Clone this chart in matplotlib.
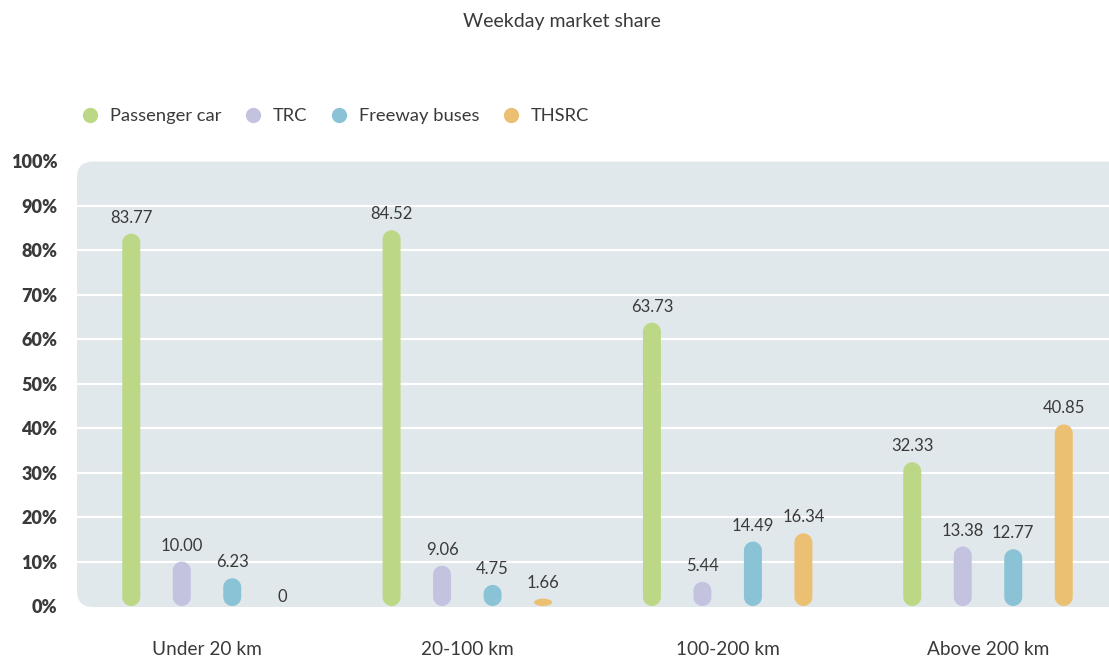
import numpy as np
import matplotlib
matplotlib.use("Agg")
import matplotlib.pyplot as plt
from matplotlib.patches import FancyBboxPatch, Polygon
from matplotlib.lines import Line2D

categories = ["Under 20 km", "20-100 km", "100-200 km", "Above 200 km"]
series_names = ["Passenger car", "TRC", "Freeway buses", "THSRC"]
passenger_car = [83.77, 84.52, 63.73, 32.33]
trc = [10.00, 9.06, 5.44, 13.38]
freeway_buses = [6.23, 4.75, 14.49, 12.77]
thsrc = [0, 1.66, 16.34, 40.85]
value_labels = [
    ["83.77", "84.52", "63.73", "32.33"],
    ["10.00", "9.06", "5.44", "13.38"],
    ["6.23", "4.75", "14.49", "12.77"],
    ["0", "1.66", "16.34", "40.85"],
]
yticks = [0, 10, 20, 30, 40, 50, 60, 70, 80, 90, 100]
ytick_labels = ["0%", "10%", "20%", "30%", "40%", "50%", "60%", "70%", "80%", "90%", "100%"]
colors = ["#bcd886", "#c3c3e0", "#8bc3d6", "#ecc072"]

plt.rcParams["font.family"] = ["Lato", "DejaVu Sans"]
TEXT = "#3a3a3a"

W, H = 1109, 659
fig = plt.figure(figsize=(W / 100, H / 100), dpi=100)

ax_left, ax_right = 77, 1109
ax_top, ax_bot = 161.5, 606
ax = fig.add_axes([ax_left / W, 1 - ax_bot / H, (ax_right - ax_left) / W, (ax_bot - ax_top) / H])
ax.set_facecolor("none")
ax.set_zorder(2)

# rounded background panel
r_bg = 16
bg = FancyBboxPatch((ax_left / W, 1 - 607 / H), (W + 40 - ax_left) / W, (607 - ax_top) / H,
                    boxstyle=f"round,pad=0,rounding_size={r_bg / W}",
                    mutation_aspect=W / H, transform=fig.transFigure,
                    facecolor="#e1e8ec", edgecolor="none", zorder=-1)
fig.patches.append(bg)

group_spacing_px = 260.3
xmin = -(207 - ax_left) / group_spacing_px
xmax = 3 + (ax_right - 988) / group_spacing_px
ax.set_xlim(xmin, xmax)
ax.set_ylim(0, 100)

px_per_x = (ax_right - ax_left) / (xmax - xmin)
px_per_y = (ax_bot - ax_top) / 100.0
bar_px = 18
hw = bar_px / 2 / px_per_x
ry_full = bar_px / 2 / px_per_y
offset = 50.5 / px_per_x

for gy in yticks[1:-1]:
    ax.axhline(gy, color="white", lw=1.5, zorder=1)

all_series = [passenger_car, trc, freeway_buses, thsrc]
x = np.arange(len(categories))
t_top = np.linspace(0, np.pi, 30)
t_bot = np.linspace(np.pi, 2 * np.pi, 30)
for si, vals in enumerate(all_series):
    for gi, v in enumerate(vals):
        c = x[gi] + (si - 1.5) * offset
        if v > 0:
            ry = min(ry_full, v / 2)
            top = np.column_stack([c + hw * np.cos(t_top), (v - ry) + ry * np.sin(t_top)])
            bot = np.column_stack([c + hw * np.cos(t_bot), ry + ry * np.sin(t_bot)])
            poly = Polygon(np.vstack([top, bot]), closed=True, facecolor=colors[si],
                           edgecolor="none", zorder=2)
            ax.add_patch(poly)
            off = 16
        else:
            off = 9
        ax.annotate(value_labels[si][gi], (c, v), xytext=(0, off), textcoords="offset pixels",
                    ha="center", va="center", fontsize=12, color=TEXT, zorder=3)

for s in ax.spines.values():
    s.set_visible(False)
ax.set_yticks(yticks)
ax.set_yticklabels(ytick_labels, fontsize=13, fontweight="heavy", color=TEXT)
ax.set_xticks(x)
ax.set_xticklabels(categories, fontsize=13.7, color=TEXT)
ax.tick_params(axis="y", length=0, pad=14)
ax.tick_params(axis="x", length=0, pad=25)

fig.text(562 / W, 1 - 21 / H, "Weekday market share", ha="center", va="center",
         fontsize=14, color=TEXT)

handles = [Line2D([], [], marker="o", linestyle="none", markersize=11, color=c, markeredgewidth=0)
           for c in colors]
fig.legend(handles, series_names, loc="center left", bbox_to_anchor=(81 / W, 1 - 116 / H),
           ncol=4, frameon=False, fontsize=13.2, handlelength=1.0, handletextpad=0.6,
           columnspacing=1.2, borderpad=0, borderaxespad=0, labelcolor=TEXT)

fig.savefig("out.png", dpi=100)
